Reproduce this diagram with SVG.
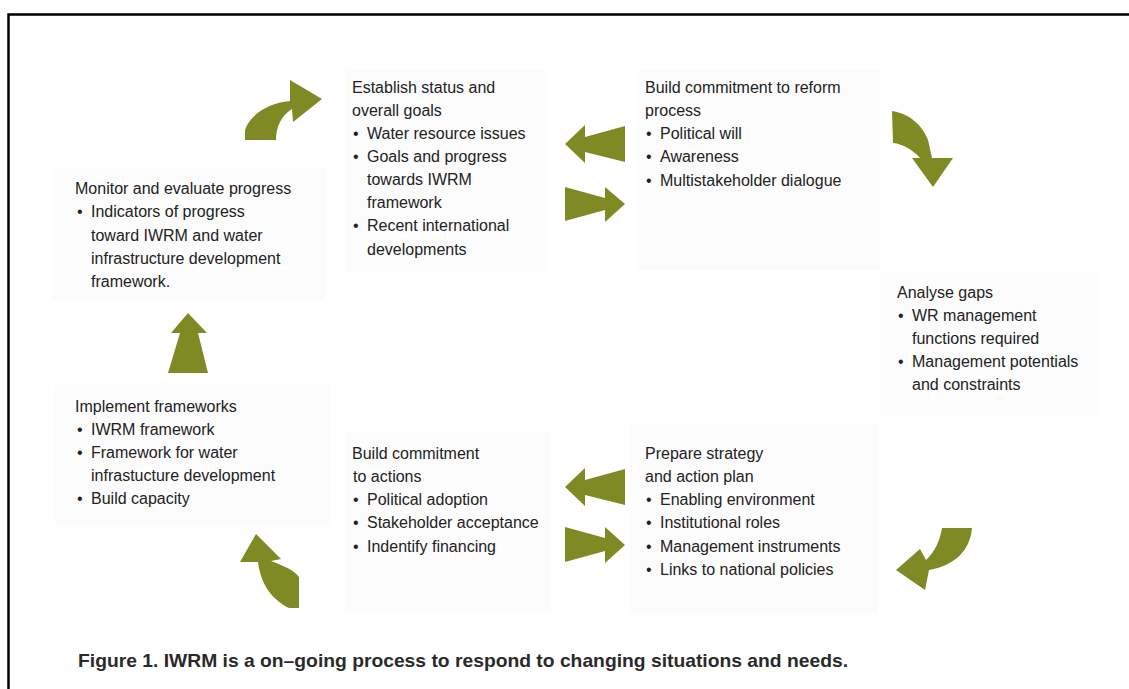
<svg xmlns="http://www.w3.org/2000/svg" width="1129" height="689" viewBox="0 0 1129 689">
<style>
.bg{fill:#fcfcfc;}
.t{font-family:"Liberation Sans",Arial,sans-serif;font-size:16px;fill:#222;}
.arr{fill:#7f8a25;}
.cap{font-family:"Liberation Sans",Arial,sans-serif;font-size:19px;font-weight:bold;fill:#2a2a2a;}
</style>
<rect x="0" y="0" width="1129" height="689" fill="#fff"/>
<path d="M8.5,689 L8.5,14.5 L1129,14.5" fill="none" stroke="#000" stroke-width="2.5"/>

<g id="node-monitor">
<rect class="bg" x="52" y="167" width="273" height="133"/>
<text class="t" x="75" y="194">Monitor and evaluate progress</text>
<text class="t" x="77" y="217">•</text><text class="t" x="91" y="217">Indicators of progress</text>
<text class="t" x="91" y="241">toward IWRM and water</text>
<text class="t" x="91" y="264">infrastructure development</text>
<text class="t" x="91" y="287">framework.</text>
</g>

<g id="node-establish">
<rect class="bg" x="345" y="70" width="203" height="203"/>
<text class="t" x="352" y="93">Establish status and</text>
<text class="t" x="352" y="116">overall goals</text>
<text class="t" x="353" y="139">•</text><text class="t" x="367" y="139">Water resource issues</text>
<text class="t" x="353" y="162">•</text><text class="t" x="367" y="162">Goals and progress</text>
<text class="t" x="367" y="185">towards IWRM</text>
<text class="t" x="367" y="208">framework</text>
<text class="t" x="353" y="231">•</text><text class="t" x="367" y="231">Recent international</text>
<text class="t" x="367" y="255">developments</text>
</g>

<g id="node-reform">
<rect class="bg" x="636" y="70" width="244" height="200"/>
<text class="t" x="645" y="93">Build commitment to reform</text>
<text class="t" x="645" y="116">process</text>
<text class="t" x="646" y="139">•</text><text class="t" x="660" y="139">Political will</text>
<text class="t" x="646" y="162">•</text><text class="t" x="660" y="162">Awareness</text>
<text class="t" x="646" y="186">•</text><text class="t" x="660" y="186">Multistakeholder dialogue</text>
</g>

<g id="node-analyse">
<rect class="bg" x="880" y="272" width="220" height="143"/>
<text class="t" x="897" y="298">Analyse gaps</text>
<text class="t" x="898" y="321">•</text><text class="t" x="912" y="321">WR management</text>
<text class="t" x="912" y="344">functions required</text>
<text class="t" x="898" y="367">•</text><text class="t" x="912" y="367">Management potentials</text>
<text class="t" x="912" y="390">and constraints</text>
</g>

<g id="node-implement">
<rect class="bg" x="55" y="385" width="275" height="140"/>
<text class="t" x="75" y="412">Implement frameworks</text>
<text class="t" x="77" y="435">•</text><text class="t" x="91" y="435">IWRM framework</text>
<text class="t" x="77" y="458">•</text><text class="t" x="91" y="458">Framework for water</text>
<text class="t" x="91" y="481">infrastucture development</text>
<text class="t" x="77" y="504">•</text><text class="t" x="91" y="504">Build capacity</text>
</g>

<g id="node-actions">
<rect class="bg" x="345" y="432" width="205" height="180"/>
<text class="t" x="352" y="459">Build commitment</text>
<text class="t" x="353" y="482">to actions</text>
<text class="t" x="353" y="505">•</text><text class="t" x="367" y="505">Political adoption</text>
<text class="t" x="353" y="528">•</text><text class="t" x="367" y="528">Stakeholder acceptance</text>
<text class="t" x="353" y="552">•</text><text class="t" x="367" y="552">Indentify financing</text>
</g>

<g id="node-prepare">
<rect class="bg" x="630" y="423" width="248" height="190"/>
<text class="t" x="645" y="459">Prepare strategy</text>
<text class="t" x="645" y="482">and action plan</text>
<text class="t" x="646" y="505">•</text><text class="t" x="660" y="505">Enabling environment</text>
<text class="t" x="646" y="528">•</text><text class="t" x="660" y="528">Institutional roles</text>
<text class="t" x="646" y="552">•</text><text class="t" x="660" y="552">Management instruments</text>
<text class="t" x="646" y="575">•</text><text class="t" x="660" y="575">Links to national policies</text>
</g>

<g id="connectors">
<path class="arr" d="M245,140 L276,140 C276,126 282,115 292,109 L293,122 L322,99 L290,80 L290,101 C268,103 250,115 245,130 Z"/>
<path class="arr" d="M565,144 L585,125 L585,137 L625,126 L625,162 L585,152 L585,163 Z"/>
<path class="arr" d="M565,187 L605,198 L605,187 L625,204 L605,222 L605,210 L565,221 Z"/>
<path class="arr" d="M892,111 C906,113 921,122 928,140 L932,158 L953,158 L933,187 L912,158 L920,158 C913,150 903,144 893,143 Z"/>
<path class="arr" d="M942,528 L972,528 C970,550 956,565 929,570 L925,590 L896,570 L920,549 L926,560 C935,552 940,540 942,528 Z"/>
<path class="arr" d="M565,487 L585,468 L585,480 L625,469 L625,505 L585,495 L585,506 Z"/>
<path class="arr" d="M565,527 L605,538 L605,527 L625,545 L605,563 L605,551 L565,562 Z"/>
<path class="arr" d="M256,534 L281,559 L271,561 C284,566 294,570 299,577 L299,608 L289,608 C273,600 261,586 258,562 L240,562 Z"/>
<path class="arr" d="M188,313 L207,333 L198,333 L208,373 L168,373 L180,333 L171,333 Z"/>
</g>

<text class="cap" x="78" y="667" textLength="770" lengthAdjust="spacingAndGlyphs">Figure 1. IWRM is a on–going process to respond to changing situations and needs.</text>
</svg>
